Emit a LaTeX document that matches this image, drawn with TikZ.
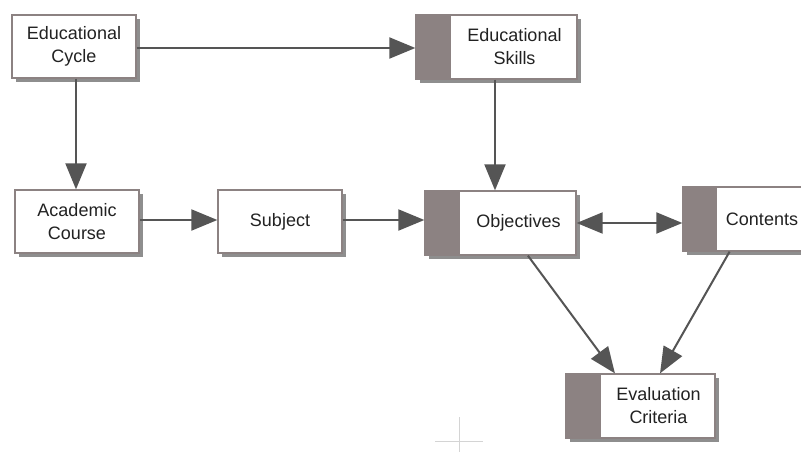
\documentclass[tikz,border=0pt]{standalone}
\usepackage{fontspec}
\setmainfont{Liberation Sans}
\usetikzlibrary{arrows.meta,shadows,calc}
\definecolor{boxline}{HTML}{8C8282}
\definecolor{barfill}{HTML}{8C8282}
\definecolor{shade}{HTML}{8E8E8E}
\definecolor{arr}{HTML}{555555}
\definecolor{txtc}{HTML}{222222}
\definecolor{cross}{HTML}{D4D4D4}
\begin{document}
\begin{tikzpicture}[x=1pt,y=-1pt,
  box/.style={draw=boxline, line width=1.3pt, fill=white, inner sep=0pt,
    minimum height=63pt, align=center, text=txtc,
    font=\fontsize{18}{23}\selectfont,
    drop shadow={shadow xshift=4pt, shadow yshift=-4pt, fill=shade, opacity=1}},
  lbl/.style={inner sep=0pt, align=center, text=txtc, font=\fontsize{18}{23}\selectfont},
  bar/.style={fill=barfill},
  conn/.style={draw=arr, line width=2pt, -{Triangle[length=26pt,width=21pt]}},
  dconn/.style={draw=arr, line width=2pt, {Triangle[length=26pt,width=21pt]}-{Triangle[length=26pt,width=21pt]}}
]
\useasboundingbox (0,0) rectangle (801,452);
\fill[white] (0,0) rectangle (801,452);

% plain boxes
\node[box, minimum width=124pt] (cycle) at (74,46.5) {Educational\\Cycle};
\node[box, minimum width=124pt] (acad) at (77,221.5) {Academic\\Course};
\node[box, minimum width=124pt] (subj) at (280,221.5) {Subject};

% boxes with bar
\node[box, minimum width=161pt, minimum height=64pt] (skills) at (496.5,47) {};
\fill[bar] (skills.north west) rectangle ([xshift=36pt]skills.south west);
\draw[boxline, line width=1.3pt] (skills.north west) rectangle (skills.south east);
\node[lbl] (skillsT) at ($(skills.center)+(18,0)$) {Educational\\Skills};

\node[box, minimum width=151pt, minimum height=64pt] (obj) at (500.5,223) {};
\fill[bar] (obj.north west) rectangle ([xshift=36pt]obj.south west);
\draw[boxline, line width=1.3pt] (obj.north west) rectangle (obj.south east);
\node[lbl] (objT) at ($(obj.center)+(18,0)$) {Objectives};

\node[box, minimum width=123pt, minimum height=64pt] (cont) at (744.5,219) {};
\fill[bar] (cont.north west) rectangle ([xshift=35pt]cont.south west);
\draw[boxline, line width=1.3pt] (cont.north west) rectangle (cont.south east);
\node[lbl] (contT) at ($(cont.center)+(17.5,0)$) {Contents};

\node[box, minimum width=149pt, minimum height=64pt] (eval) at (640.5,406) {};
\fill[bar] (eval.north west) rectangle ([xshift=36pt]eval.south west);
\draw[boxline, line width=1.3pt] (eval.north west) rectangle (eval.south east);
\node[lbl] (evalT) at ($(eval.center)+(18,0)$) {Evaluation\\Criteria};

% connectors
\draw[conn] ([yshift=-1.5pt]cycle.east) -- ([yshift=-1.5pt]cycle.east -| skills.west);
\draw[conn] ([xshift=2pt]cycle.south) -- ([xshift=2pt]cycle.south |- acad.north);
\draw[conn] ([xshift=-1.5pt]skills.south) -- ([xshift=-1.5pt]skills.south |- obj.north);
\draw[conn] ([yshift=1.5pt]acad.east) -- ([yshift=1.5pt]acad.east -| subj.west);
\draw[conn] ([yshift=1.5pt]subj.east) -- ([yshift=1.5pt]subj.east -| obj.west);
\draw[dconn] (obj.east) -- (obj.east -| cont.west);
\draw[conn] ($(obj.south west)!0.68!(obj.south east)$) -- ($(eval.north west)!0.33!(eval.north east)$);
\draw[conn] ($(cont.south west)!0.38!(cont.south east)$) -- ($(eval.north west)!0.63!(eval.north east)$);

% crosshair mark
\draw[cross, line width=1pt] (435,441) -- (483,441);
\draw[cross, line width=1pt] (459,417) -- (459,452);
\end{tikzpicture}
\end{document}
